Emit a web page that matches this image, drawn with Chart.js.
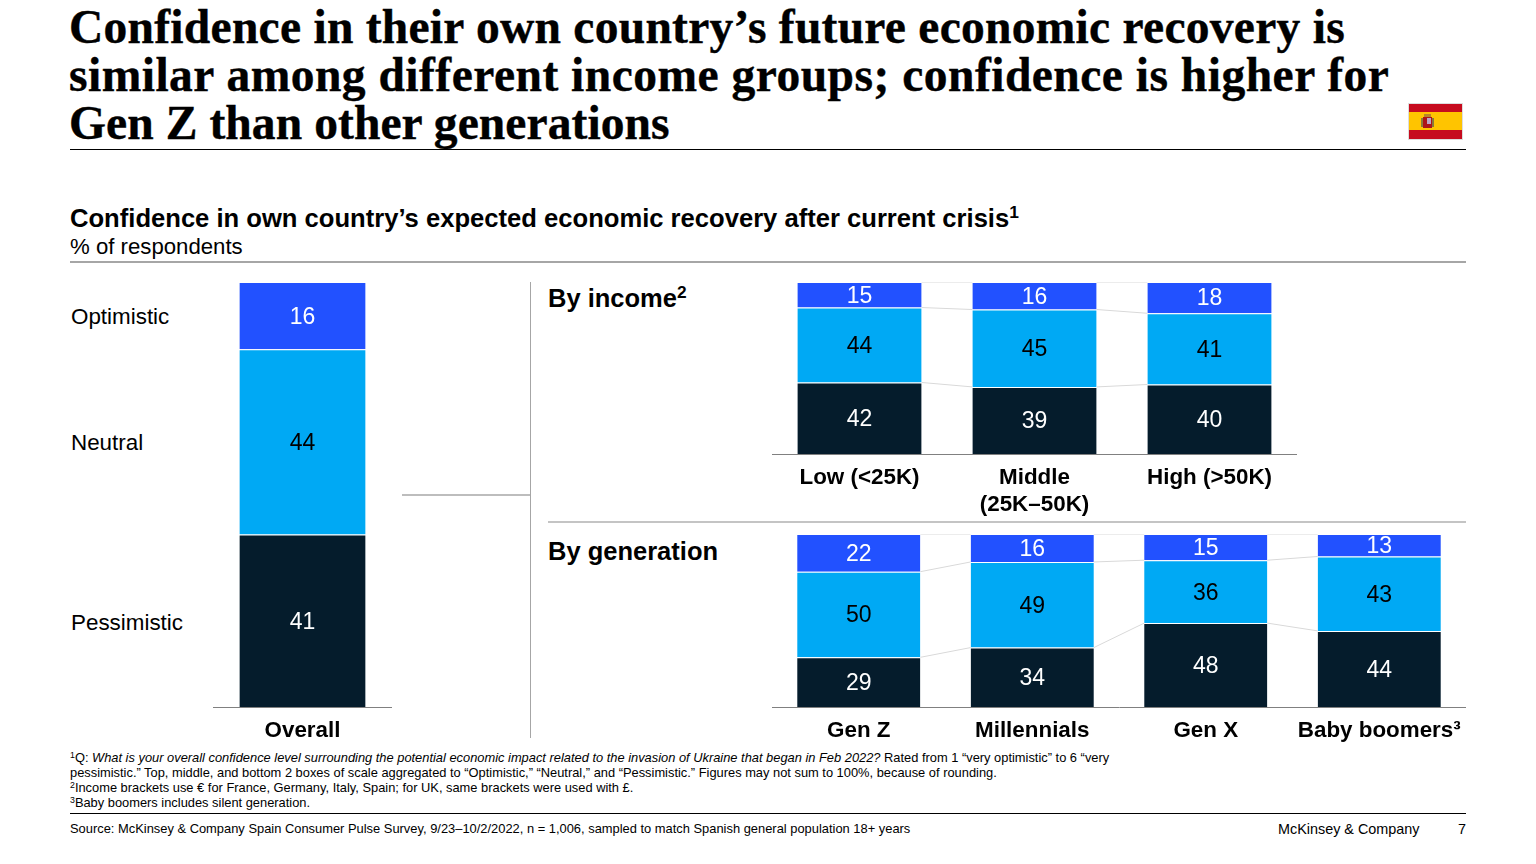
<!DOCTYPE html>
<html>
<head>
<meta charset="utf-8">
<title>Confidence in own country's recovery</title>
<script src="https://cdn.jsdelivr.net/npm/chart.js@4"></script>
<style>
html, body { margin: 0; padding: 0; background: #fff; overflow: hidden; }
body { width: 1536px; height: 864px; position: relative; font-family: "Liberation Sans", Arial, sans-serif; color: #000; }
.t { position: absolute; white-space: nowrap; }
.rule { position: absolute; }
canvas { position: absolute; }
sup { font-size: .68em; line-height: 0; vertical-align: baseline; position: relative; top: -.5em; }
#title { left: 69px; top: 3px; font: bold 47.5px/48px "Liberation Serif", serif; letter-spacing: .27px; -webkit-text-stroke: .4px #000; }
#title .l2 { letter-spacing: .49px; }
#title .l3 { letter-spacing: .09px; }
#sub { left: 70px; top: 203px; font: bold 25.6px/30px "Liberation Sans", sans-serif; }
#unit { left: 70px; top: 233px; font-size: 22.2px; line-height: 28px; }
.row { left: 71px; font-size: 22.4px; line-height: 28px; }
.head { left: 548px; font: bold 25.5px/30px "Liberation Sans", sans-serif; }
#notes { left: 70px; top: 750px; font-size: 12.87px; line-height: 15px; }
#source { left: 70px; top: 821px; font-size: 12.9px; line-height: 15px; }
#firm { left: 1278px; top: 821px; font-size: 14.4px; line-height: 16px; }
#page { left: 1458px; top: 821px; font-size: 14.4px; line-height: 16px; }
#flag { position: absolute; left: 1408px; top: 103px; width: 55px; height: 37px; }
</style>
</head>
<body>
<div class="t" id="title">Confidence in their own country’s future economic recovery is<br><span class="l2">similar among different income groups; confidence is higher for</span><br><span class="l3">Gen Z than other generations</span></div>
<svg id="flag" viewBox="0 0 55 37">
  <rect width="55" height="37" fill="#c60b1e"/>
  <rect y="9" width="55" height="18" fill="#ffc400"/>
  <rect x="15" y="14" width="9" height="11" fill="#ad1519"/>
  <rect x="13" y="15" width="2" height="9" fill="#8a7a3a"/>
  <rect x="24" y="15" width="2" height="9" fill="#8a7a3a"/>
  <rect x="16" y="11" width="7" height="3" fill="#b8862b"/>
  <rect x="19" y="15" width="4" height="6" fill="#b9a5c9"/>
  <rect x=".5" y=".5" width="54" height="36" fill="none" stroke="#ddd"/>
</svg>
<div class="rule" style="left:70px;top:149px;width:1396px;height:1px;background:#000"></div>

<div class="t" id="sub">Confidence in own country’s expected economic recovery after current crisis<sup>1</sup></div>
<div class="t" id="unit">% of respondents</div>
<div class="rule" style="left:70px;top:261px;width:1396px;height:2px;background:#a6a6a6"></div>

<div class="t row" style="top:303px">Optimistic</div>
<div class="t row" style="top:429px">Neutral</div>
<div class="t row" style="top:609px">Pessimistic</div>

<div class="rule" style="left:530px;top:282px;width:1px;height:456px;background:#a6a6a6"></div>
<div class="rule" style="left:402px;top:494px;width:128px;height:2px;background:#bdbdbd"></div>
<div class="rule" style="left:548px;top:521px;width:918px;height:2px;background:#c4c4c4"></div>

<div class="t head" style="top:283px">By income<sup>2</sup></div>
<div class="t head" style="top:536px">By generation</div>

<canvas id="overallChart" style="left:213px;top:282px" width="179" height="465"></canvas>
<canvas id="incomeChart" style="left:772px;top:282px" width="525" height="240"></canvas>
<canvas id="generationChart" style="left:772px;top:534px" width="694" height="213"></canvas>

<div class="t" id="notes"><sup>1</sup>Q: <i>What is your overall confidence level surrounding the potential economic impact related to the invasion of Ukraine that began in Feb 2022?</i> Rated from 1 “very optimistic” to 6 “very<br>pessimistic.” Top, middle, and bottom 2 boxes of scale aggregated to “Optimistic,” “Neutral,” and “Pessimistic.” Figures may not sum to 100%, because of rounding.<br><sup>2</sup>Income brackets use € for France, Germany, Italy, Spain; for UK, same brackets were used with £.<br><sup>3</sup>Baby boomers includes silent generation.</div>
<div class="rule" style="left:70px;top:813px;width:1396px;height:1px;background:#000"></div>
<div class="t" id="source">Source: McKinsey &amp; Company Spain Consumer Pulse Survey, 9/23–10/2/2022, n = 1,006, sampled to match Spanish general population 18+ years</div>
<div class="t" id="firm">McKinsey &amp; Company</div>
<div class="t" id="page">7</div>

<script>
const seriesNames = ["Pessimistic", "Neutral", "Optimistic"];

const overallLabels = ["Overall"];
const overallPessimistic = [41];
const overallNeutral = [44];
const overallOptimistic = [16];

const incomeLabels = ["Low (<25K)", ["Middle", "(25K–50K)"], "High (>50K)"];
const incomePessimistic = [42, 39, 40];
const incomeNeutral = [44, 45, 41];
const incomeOptimistic = [15, 16, 18];

const generationLabels = ["Gen Z", "Millennials", "Gen X", "Baby boomers³"];
const generationPessimistic = [29, 34, 48, 44];
const generationNeutral = [50, 49, 36, 43];
const generationOptimistic = [22, 16, 15, 13];

const fillColors = ["#051C2C", "#00A9F4", "#2251FF"];
const labelColors = ["#ffffff", "#000000", "#ffffff"];

Chart.defaults.font.family = '"Liberation Sans", Arial, sans-serif';
Chart.defaults.animation = false;

// every column is drawn full height, the figures don't always sum to 100
function shares(series, index) {
  const total = series.reduce((sum, s) => sum + s[index], 0);
  return series.map(s => s[index] / total * 100);
}

const barText = {
  id: "barText",
  afterDatasetsDraw(chart) {
    const ctx = chart.ctx;
    ctx.save();
    ctx.font = "23px " + Chart.defaults.font.family;
    ctx.textAlign = "center";
    ctx.textBaseline = "middle";
    chart.data.datasets.forEach((ds, i) => {
      chart.getDatasetMeta(i).data.forEach((bar, j) => {
        ctx.fillStyle = labelColors[i];
        ctx.fillText(ds.shown[j], bar.x, (bar.y + bar.base) / 2 + 1.5);
      });
    });
    ctx.restore();
  }
};

const connectors = {
  id: "connectors",
  afterDatasetsDraw(chart, args, opts) {
    if (!opts.show) return;
    const ctx = chart.ctx;
    ctx.save();
    ctx.strokeStyle = "#d9d9d9";
    ctx.lineWidth = 1;
    chart.data.datasets.forEach((ds, i) => {
      const bars = chart.getDatasetMeta(i).data;
      for (let j = 0; j < bars.length - 1; j++) {
        ctx.beginPath();
        ctx.moveTo(bars[j].x + bars[j].width / 2, bars[j].y);
        ctx.lineTo(bars[j + 1].x - bars[j + 1].width / 2, bars[j + 1].y);
        ctx.stroke();
      }
    });
    ctx.restore();
  }
};

function drawStack(id, labels, series, barShare, axisHeight, showLines) {
  const datasets = series.map((values, i) => ({
    label: seriesNames[i],
    data: values.map((v, j) => shares(series, j)[i]),
    shown: values,
    backgroundColor: fillColors[i],
    borderColor: "rgba(255,255,255,0.4)",
    borderWidth: { top: 1, bottom: 0, left: 0, right: 0 },
    borderSkipped: false,
    barPercentage: barShare,
    categoryPercentage: 1
  }));
  new Chart(document.getElementById(id), {
    type: "bar",
    data: { labels: labels, datasets: datasets },
    options: {
      responsive: false,
      layout: { padding: 0 },
      plugins: { legend: { display: false }, tooltip: { enabled: false }, connectors: { show: showLines } },
      scales: {
        x: {
          stacked: true,
          grid: { display: false },
          border: { color: "#808080", width: 1 },
          afterFit(scale) {
            scale.height = axisHeight;
            scale.paddingLeft = 0;
            scale.paddingRight = 0;
          },
          ticks: {
            color: "#000",
            padding: 2,
            maxRotation: 0,
            autoSkip: false,
            font: { size: 22.4, weight: "bold", lineHeight: 1.21 }
          }
        },
        y: { stacked: true, display: false, min: 0, max: 100 }
      }
    },
    plugins: [connectors, barText]
  });
}

drawStack("overallChart", overallLabels, [overallPessimistic, overallNeutral, overallOptimistic], 0.705, 40, false);
drawStack("incomeChart", incomeLabels, [incomePessimistic, incomeNeutral, incomeOptimistic], 0.71, 68, true);
drawStack("generationChart", generationLabels, [generationPessimistic, generationNeutral, generationOptimistic], 0.71, 40, true);
</script>
</body>
</html>
